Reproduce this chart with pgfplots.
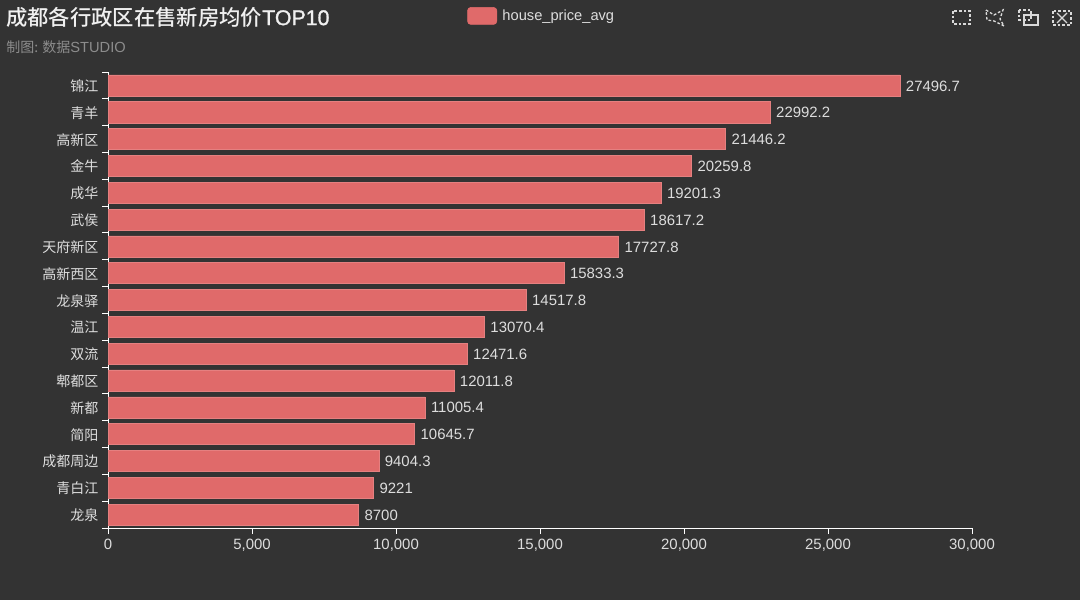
\documentclass[border=0pt]{standalone}
\usepackage{fontspec}
\usepackage{pgfplots}
\pgfplotsset{compat=1.18}
\setmainfont{Liberation Sans}
\newfontfamily\cjk{Noto Sans CJK SC}
\newfontfamily\cjkm{Noto Sans CJK SC Medium}
\newfontfamily\latm[FakeBold=1.2]{Liberation Sans}
\definecolor{bg}{HTML}{333333}
\definecolor{barc}{HTML}{E06A6A}
\definecolor{lab}{HTML}{DDDDDD}
\definecolor{sub}{HTML}{8C8C8C}
\begin{document}
\begin{tikzpicture}
\begin{scope}[x=0.75pt,y=-0.75pt]
\useasboundingbox (0,0) rectangle (1080,600);
\fill[bg] (0,0) rectangle (1080,600);
\node[anchor=west,inner sep=0pt,text=white!94!black,font=\fontsize{16}{18}\selectfont] at (6,17) {{\cjkm 成都各行政区在售新房均价}{\latm TOP10}};
\node[anchor=west,inner sep=0pt,text=sub,font=\fontsize{11}{12}\selectfont] at (6,47) {{\fontsize{10.5}{12}\selectfont\cjk 制图: 数据}STUDIO};
\begin{scope}[draw=white!85!black,line width=1pt,dash pattern=on 2pt off 1.5pt]
\draw (953,11) rectangle (970,24);
\draw (986,10) -- (994,15) -- (1003,10) -- (1000,19) -- (1004,26) -- (994,21) -- (987,20) -- cycle;
\draw (1019,10) rectangle (1031,20);
\draw[dash pattern={}] (1024,15) rectangle (1038,25);
\draw (1053,11) rectangle (1071,25);
\draw[dash pattern={}] (1057,13) -- (1067,23) (1067,13) -- (1057,23);
\end{scope}
\end{scope}
\begin{axis}[
  at={(81pt,-396pt)},anchor=south west,
  scale only axis,width=648pt,height=342pt,
  xbar,bar width=15.8pt,bar shift=0pt,
  xmin=0,xmax=30000,ymin=-0.5,ymax=16.5,
  axis x line*=bottom,axis y line*=left,
  axis line style={white,line width=0.75pt,-},
  xtick={0,5000,10000,15000,20000,25000,30000},
  scaled x ticks=false,
  /pgf/number format/.cd,1000 sep={,},assume math mode=true,
  /pgfplots/.cd,
  ytick={-0.5,0.5,...,16.5},
  yticklabels={},
  extra y ticks={0,...,16},
  extra y tick labels={龙泉,青白江,成都周边,简阳,新都,郫都区,双流,温江,龙泉驿,高新西区,天府新区,武侯,成华,金牛,高新区,青羊,锦江},
  extra y tick style={major tick length=0pt,yticklabel style={xshift=-3.7pt,yshift=-0.5pt}},
  tick align=outside,
  major tick length=4.5pt,
  tick style={white,line width=0.75pt},
  xticklabel style={text=lab,font=\fontsize{11.2}{12}\selectfont,yshift=-0.6pt},
  yticklabel style={text=lab,font=\fontsize{10.5}{12}\selectfont\cjk},
  legend style={at={(axis description cs:0.4155,1.123)},anchor=west,draw=none,fill=none,inner sep=0pt,text=lab,font=\fontsize{11}{12}\selectfont},
  legend image code/.code={\fill[barc,rounded corners=2.5pt] (0pt,-6.4pt) rectangle (22pt,6.4pt);\path (24pt,0pt);},
  legend cell align=left,
  clip=false,
]
\addplot[fill=barc,draw=barc!85!white,line width=0.4pt,
  point meta=x,
  nodes near coords={\pgfmathprintnumber[fixed,precision=1,1000 sep={},assume math mode=true]{\pgfplotspointmeta}},
  nodes near coords style={text=lab,font=\fontsize{11.2}{12}\selectfont,anchor=west,xshift=1pt,yshift=-0.4pt},
] coordinates {
(8700,0) (9221,1) (9404.3,2) (10645.7,3) (11005.4,4) (12011.8,5) (12471.6,6) (13070.4,7) (14517.8,8) (15833.3,9) (17727.8,10) (18617.2,11) (19201.3,12) (20259.8,13) (21446.2,14) (22992.2,15) (27496.7,16)
};
\addlegendentry{house\_price\_avg}
\end{axis}
\end{tikzpicture}
\end{document}
